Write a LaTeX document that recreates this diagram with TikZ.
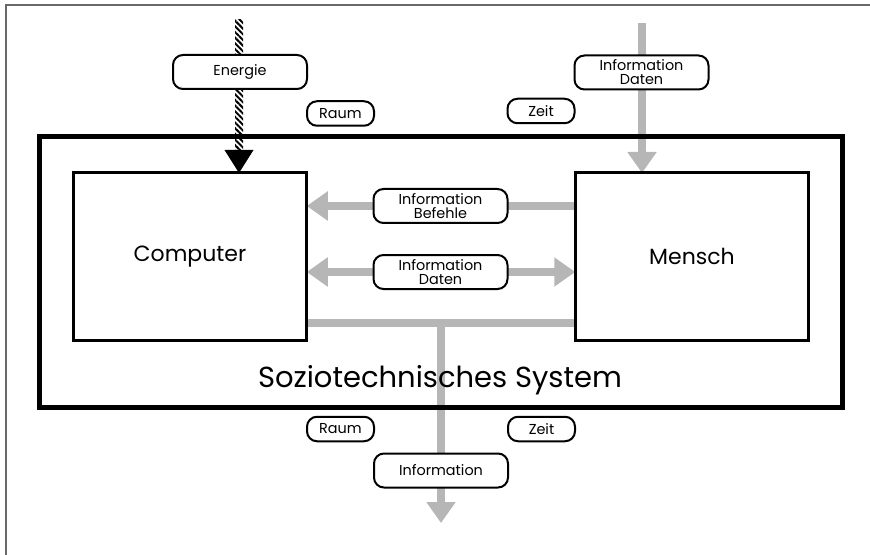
\documentclass[tikz,border=0pt]{standalone}
\usepackage{fontspec}
\setmainfont{Poppins}
\usetikzlibrary{arrows.meta,positioning,calc,backgrounds,patterns.meta}
\definecolor{flowgray}{RGB}{182,182,182}
\definecolor{framegray}{RGB}{105,105,105}
\tikzset{
  box/.style={draw, line width=1.5pt, outer sep=0pt, minimum width=116.75pt,
    minimum height=83.5pt, font=\fontsize{11}{13}\selectfont},
  tag/.style={draw, line width=1pt, rounded corners=5pt, fill=white, align=center,
    inner sep=0pt, minimum width=67pt, minimum height=17pt,
    font=\fontsize{7.2}{7}\selectfont},
  smalltag/.style={tag, minimum width=33.5pt, minimum height=12.25pt},
  flow/.style={flowgray, line width=4pt},
  flowarrow/.style={flow, -{Triangle[width=14pt,length=10.5pt]}},
  flowboth/.style={flow, {Triangle[width=14pt,length=10.5pt]}-{Triangle[width=14pt,length=10.5pt]}}
}

\begin{document}
\begin{tikzpicture}[x=0.5pt,y=-0.5pt]
  \useasboundingbox (0,0) rectangle (870,555);
  % Rahmen
  \draw[framegray, line width=1pt] (5.5,555) -- (5.5,5.5) -- (870,5.5);
  % System
  \node[draw, line width=2.5pt, outer sep=0pt, minimum width=401.5pt,
    minimum height=135.25pt] (sys) at (441,271.75) {};
  \node[font=\fontsize{14.5}{16}\selectfont] (systext) at (440,380) {Soziotechnisches System};
  \node[box] (computer) at (190,256.5) {Computer};
  \node[box] (mensch) at (692,256.5) {Mensch};
  % Beschriftungen
  \node[tag] (energie) at (240,72) {Energie};
  \node[smalltag] (raumtop) at (340.5,113.5) {Raum};
  \node[smalltag] (zeittop) at (541,111) {Zeit};
  \node[tag] (infotop) at (641.5,72.5) {Information\\Daten};
  \node[tag] (befehle) at (440.5,206) {Information\\Befehle};
  \node[tag] (daten) at (440.5,272) {Information\\Daten};
  \node[smalltag] (raumbot) at (340.5,429) {Raum};
  \node[smalltag] (zeitbot) at (541.5,429) {Zeit};
  \node[tag] (infobot) at (441,470.5) {Information};
  % Fluesse
  \coordinate (srcE) at (239,20);
  \coordinate (tipE) at (srcE |- computer.north);
  \coordinate (srcI) at (642,23);
  \coordinate (junc) at (441,323);
  \coordinate (sinkI) at (441,523);
  \begin{scope}[on background layer]
    \fill[pattern={Lines[angle=-45,distance=2pt,line width=1pt]}]
      ($(srcE)+(-4,0)$) rectangle ($(tipE)+(4,-23)$);
    \fill ($(tipE)+(-14.5,-23)$) -- ($(tipE)+(14.5,-23)$) -- (tipE) -- cycle;
    \draw[flowarrow] (srcI) -- (srcI |- mensch.north);
    \draw[flowarrow] (mensch.west |- befehle) -- (computer.east |- befehle);
    \draw[flowboth] (computer.east |- daten) -- (mensch.west |- daten);
    \draw[flow] (computer.east |- junc) -- (mensch.west |- junc);
    \draw[flowarrow] (junc) -- (sinkI);
  \end{scope}
\end{tikzpicture}
\end{document}
